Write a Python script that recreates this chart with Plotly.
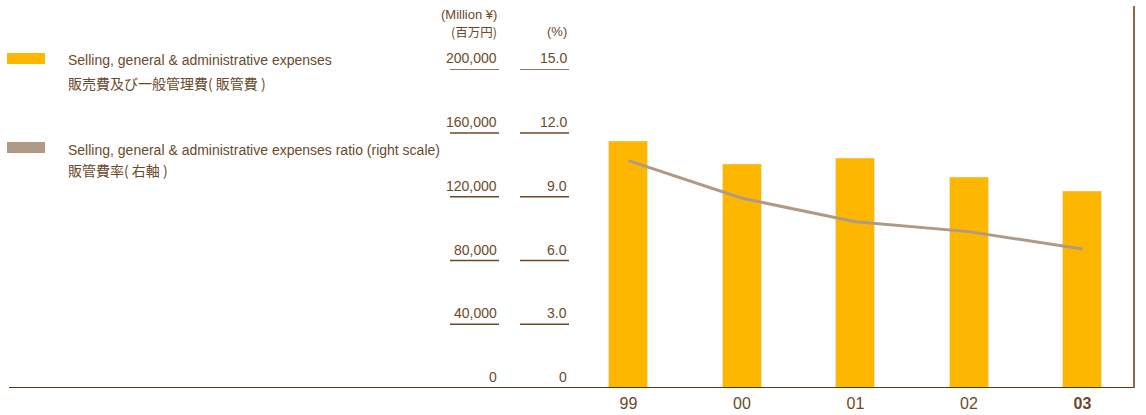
import plotly.graph_objects as go

# ---- data ----
years = ["99", "00", "01", "02", "03"]
year_labels = ["99", "00", "01", "02", "<b>03</b>"]
sga = [155000, 140600, 144300, 132400, 123600]          # Million yen
sga_ratio = [10.70, 8.93, 7.83, 7.36, 6.54]              # %
left_ticks = [0, 40000, 80000, 120000, 160000, 200000]
left_tick_text = ["0", "40,000", "80,000", "120,000", "160,000", "200,000"]
right_ticks = [0, 3, 6, 9, 12, 15]
right_tick_text = ["0", "3.0", "6.0", "9.0", "12.0", "15.0"]

W, H = 1146, 415
BROWN = "#6b4a2b"
DARK = "#5a3512"
GOLD = "#fdb700"
TAN = "#b09a86"
LAT = "Liberation Sans, Arial, sans-serif"
CJK = "Noto Sans CJK JP, sans-serif"

def px(x):
    return x / W

def py(y):
    return 1 - y / H

fig = go.Figure()
fig.add_trace(go.Bar(x=years, y=sga, marker_color=GOLD, width=0.344,
                     yaxis="y", name="SG&A"))
fig.add_trace(go.Scatter(x=years, y=sga_ratio, mode="lines",
                         line=dict(color=TAN, width=3), yaxis="y2", name="ratio"))

shapes = []
annotations = []

# y axis labels with underlines
for v, t in zip(left_ticks, left_tick_text):
    annotations.append(dict(x=px(499), xref="paper", y=v, yref="y", text=t,
                            xanchor="right", yanchor="middle", yshift=11, showarrow=False,
                            font=dict(family=LAT, size=14, color=BROWN)))
    if v > 0:
        shapes.append(dict(type="line", xref="paper", yref="y", x0=px(450), x1=px(499),
                           y0=v, y1=v, line=dict(color=BROWN, width=1.5)))
for v, t in zip(right_ticks, right_tick_text):
    annotations.append(dict(x=px(569), xref="paper", y=v, yref="y2", text=t,
                            xanchor="right", yanchor="middle", yshift=11, showarrow=False,
                            font=dict(family=LAT, size=14, color=BROWN)))
    if v > 0:
        shapes.append(dict(type="line", xref="paper", yref="y2", x0=px(520), x1=px(569),
                           y0=v, y1=v, line=dict(color=BROWN, width=1.5)))

# unit headers
annotations += [
    dict(x=px(499), y=py(14), xref="paper", yref="paper", text="(Million ¥)", xanchor="right",
         yanchor="middle", showarrow=False, font=dict(family=LAT, size=13, color=BROWN)),
    dict(x=px(499), y=py(31.5), xref="paper", yref="paper", text="(百万円)", xanchor="right",
         yanchor="middle", showarrow=False, font=dict(family=CJK, size=12.5, color=BROWN)),
    dict(x=px(569), y=py(31.5), xref="paper", yref="paper", text="(%)", xanchor="right",
         yanchor="middle", showarrow=False, font=dict(family=LAT, size=13, color=BROWN)),
]

# legend
shapes += [
    dict(type="rect", xref="paper", yref="paper", x0=px(7), x1=px(45), y0=py(64), y1=py(53),
         fillcolor=GOLD, line=dict(width=0)),
    dict(type="rect", xref="paper", yref="paper", x0=px(7), x1=px(45), y0=py(153), y1=py(142),
         fillcolor=TAN, line=dict(width=0)),
]
legend_lines = [
    (60, "Selling, general & administrative expenses", LAT, 14),
    (82.5, "販売費及び一般管理費( 販管費 )", CJK, 14),
    (149.5, "Selling, general & administrative expenses ratio (right scale)", LAT, 14),
    (169.5, "販管費率( 右軸 )", CJK, 14),
]
for y, t, f, s in legend_lines:
    annotations.append(dict(x=px(66), y=py(y), xref="paper", yref="paper", text=t,
                            xanchor="left", yanchor="middle", showarrow=False,
                            font=dict(family=f, size=s, color=BROWN)))

# baseline and right border
shapes += [
    dict(type="line", xref="paper", yref="y", x0=px(9), x1=px(1135), y0=0, y1=0,
         line=dict(color=DARK, width=2)),
    dict(type="line", xref="paper", yref="paper", x0=px(1134), x1=px(1134), y0=py(388), y1=py(6),
         line=dict(color="#8b6a48", width=2)),
]

ydom = [py(388), py(69.3)]
fig.update_layout(
    width=W, height=H,
    margin=dict(l=0, r=0, t=0, b=0),
    paper_bgcolor="white", plot_bgcolor="white",
    showlegend=False,
    bargap=0,
    xaxis=dict(domain=[px(571.75), px(1139.25)], range=[-0.5, 4.5], type="category",
               tickmode="array", tickvals=years, ticktext=year_labels,
               showline=False, showgrid=False, zeroline=False, ticks="",
               ticklabelstandoff=4,
               tickfont=dict(family=LAT, size=16, color=BROWN)),
    yaxis=dict(domain=ydom, range=[0, 200000], visible=False, fixedrange=True),
    yaxis2=dict(range=[0, 15], overlaying="y", visible=False, fixedrange=True),
    shapes=shapes,
    annotations=annotations,
)

fig.write_html("out.html", config={"displayModeBar": False},
               post_script="document.body.style.margin='0px';")
